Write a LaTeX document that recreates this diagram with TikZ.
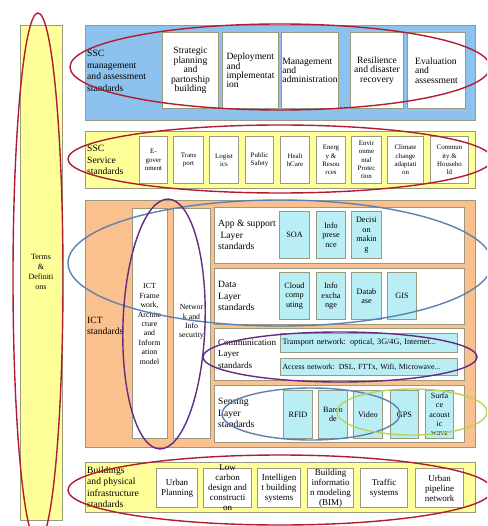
\documentclass[tikz,border=0pt]{standalone}
\usepackage{fontspec}
\usepackage{xcolor}
\setmainfont{Liberation Serif}

\definecolor{edge}{RGB}{155,152,128}
\definecolor{sky}{RGB}{141,194,238}
\definecolor{lemon}{RGB}{255,255,153}
\definecolor{peach}{RGB}{250,192,142}
\definecolor{aqua}{RGB}{186,238,245}
\definecolor{ringred}{RGB}{178,28,48}
\definecolor{ringpurple}{RGB}{98,44,128}
\definecolor{ringblue}{RGB}{92,130,176}
\definecolor{ringgreen}{RGB}{182,212,92}

\newcommand{\paneltxt}{\fontsize{9.6}{11.5}\selectfont}
\newcommand{\toptxt}{\fontsize{9.6}{9.4}\selectfont}
\newcommand{\svctxt}{\fontsize{6.9}{8.3}\selectfont}
\newcommand{\coltxt}{\fontsize{7.8}{9.4}\selectfont}
\newcommand{\aquatxt}{\fontsize{8.2}{9.5}\selectfont}
\newcommand{\bldtxt}{\fontsize{9}{10}\selectfont}

\begin{document}
\begin{tikzpicture}[x=1pt, y=-1pt]

    \tikzset{
        panel/.style = {rectangle, draw=edge, line width=1.2pt, anchor=north west, inner sep=0pt},
        cell/.style = {rectangle, draw=edge, line width=1pt, fill=white, anchor=north west, inner sep=0pt, align=center},
        aquacell/.style = {cell, fill=aqua, font=\aquatxt},
        lbl/.style = {anchor=west, align=left, inner sep=0pt, font=\paneltxt},
        ring/.style = {line width=1.4pt}
    }

    \fill [white] (0,0) rectangle (487,526);
    \useasboundingbox (0,0) rectangle (487,526);
    \clip (0,0) rectangle (487,526);

    % terms column
    \node (terms) [panel, fill=lemon, minimum width=42, minimum height=495] at (20,25) {};
    \node (termslbl) [align=center, inner sep=0pt, font=\fontsize{8}{10}\selectfont] at (41,272) {Terms\\\&\\Definiti\\ons};

    % management and assessment
    \node (mgmtpanel) [panel, fill=sky, minimum width=390, minimum height=95] at (85,25) {};
    \node (mgmt) [lbl] at (87,71) {SSC\\management\\and assessment\\standards};
    \node (strat) [cell, font=\toptxt, minimum width=56, minimum height=76] at (162,32) {Strategic\\planning\\and\\partorship\\building};
    \node (deploy) [cell, font=\toptxt, align=left, minimum width=56, minimum height=76] at (222,32) {Deployment\\and\\implementat\\ion};
    \node (manage) [cell, font=\toptxt, align=left, minimum width=57, minimum height=76] at (281,32) {Management\\and\\administration};
    \node (resil) [cell, font=\toptxt, minimum width=53, minimum height=76] at (350,32) {Resilience\\and disaster\\recovery};
    \node (evalu) [cell, font=\toptxt, align=left, minimum width=58, minimum height=76] at (407,32) {Evaluation\\and\\assessment};

    % service standards
    \node (svcpanel) [panel, fill=lemon, minimum width=390, minimum height=57] at (85,131) {};
    \node (svc) [lbl] at (87,160) {SSC\\Service\\standards};
    \node (egov) [cell, font=\svctxt, minimum width=28, minimum height=47] at (139,136) {E-\\gover\\nment};
    \node (trans) [cell, font=\svctxt, minimum width=30, minimum height=47] at (173,136) {Trans\\port};
    \node (logis) [cell, font=\svctxt, minimum width=29, minimum height=47] at (209,136) {Logist\\ics};
    \node (safety) [cell, font=\svctxt, minimum width=28, minimum height=47] at (245,136) {Public\\Safety};
    \node (health) [cell, font=\svctxt, minimum width=29, minimum height=47] at (280,136) {Healt\\hCare};
    \node (energy) [cell, font=\svctxt, minimum width=29, minimum height=47] at (316,136) {Energ\\y \&\\Resou\\rces};
    \node (envir) [cell, font=\svctxt, minimum width=30, minimum height=47] at (351,136) {Envir\\onme\\ntal\\Protec\\tion};
    \node (climate) [cell, font=\svctxt, minimum width=36, minimum height=47] at (387,136) {Climate\\change\\adaptati\\on};
    \node (commun) [cell, font=\svctxt, minimum width=38, minimum height=47] at (430,136) {Commun\\ity \&\\Househo\\ld};

    % ICT standards
    \node (ictpanel) [panel, fill=peach, minimum width=390, minimum height=247] at (85,200) {};
    \node (ict) [lbl] at (87,326) {ICT\\standards};
    \node (frame) [cell, font=\coltxt, minimum width=35, minimum height=230] at (132,208) {};
    \node (framelbl) [align=center, inner sep=0pt, font=\coltxt] at (149.5,324) {ICT\\Frame\\work,\\Archite\\cture\\and\\Inform\\ation\\model};
    \node (netsec) [cell, font=\coltxt, minimum width=37, minimum height=230] at (173,208) {};
    \node (netseclbl) [align=center, inner sep=0pt, font=\coltxt] at (191.5,322) {Networ\\k and\\Info\\security};

    \node (applayer) [cell, minimum width=250, minimum height=56] at (214,207) {};
    \node (applbl) [lbl] at (218,235) {App \& support\\\ Layer\\standards};
    \node (soa) [aquacell, minimum width=30, minimum height=47] at (279,211) {SOA};
    \node (presence) [aquacell, minimum width=29, minimum height=47] at (316,211) {Info\\prese\\nce};
    \node (decision) [aquacell, minimum width=30, minimum height=47] at (351,211) {Decisi\\on\\makin\\g};

    \node (datalayer) [cell, minimum width=250, minimum height=56] at (214,268) {};
    \node (datalbl) [lbl] at (218,296) {Data\\Layer\\standards};
    \node (cloud) [aquacell, minimum width=30, minimum height=47] at (279,272) {Cloud\\comp\\uting};
    \node (exch) [aquacell, minimum width=29, minimum height=47] at (316,272) {Info\\excha\\nge};
    \node (datab) [aquacell, minimum width=30, minimum height=47] at (351,272) {Datab\\ase};
    \node (gis) [aquacell, minimum width=29, minimum height=47] at (387,272) {GIS};

    \node (commlayer) [cell, minimum width=250, minimum height=52] at (214,328) {};
    \node (commlbl) [lbl, font=\fontsize{9}{11.5}\selectfont] at (218,354) {Communication\\Layer\\standards};
    \node (transport) [aquacell, text width=173, align=left, inner xsep=2pt, minimum height=19, font=\fontsize{8.2}{9}\selectfont] at (280,333) {Transport network: optical, 3G/4G, Internet...};
    \node (access) [aquacell, text width=173, align=left, inner xsep=2pt, minimum height=17, font=\fontsize{7.8}{9}\selectfont] at (280,358) {Access network: DSL, FTTx, Wifi, Microwave...};

    \node (senslayer) [cell, minimum width=250, minimum height=57] at (214,385) {};
    \node (senslbl) [lbl] at (218,413) {Sensing\\Layer\\standards};
    \node (rfid) [aquacell, minimum width=29, minimum height=48] at (283,390) {RFID};
    \node (barcode) [aquacell, minimum width=29, minimum height=48] at (318,390) {Barco\\de};
    \node (video) [aquacell, minimum width=29, minimum height=48] at (353,390) {Video};
    \node (gps) [aquacell, minimum width=28, minimum height=48] at (390,390) {GPS};
    \node (surface) [aquacell, minimum width=28, minimum height=48, font=\fontsize{8}{9.3}\selectfont] at (425,390) {Surfa\\ce\\acoust\\ic\\wave};

    % buildings and physical infrastructure
    \node (bldpanel) [panel, fill=lemon, minimum width=390, minimum height=50] at (85,462) {};
    \node (bld) [lbl] at (87,487) {Buildings\\and physical\\infrastructure\\standards};
    \node (urban) [cell, font=\bldtxt, minimum width=41, minimum height=39] at (156,468) {Urban\\Planning};
    \node (lowcarb) [cell, minimum width=48, minimum height=39, label={[align=center, font=\bldtxt, inner sep=0pt]center:{Low\\carbon\\design and\\constructi\\on}}] at (203,468) {};
    \node (intel) [cell, font=\bldtxt, minimum width=43, minimum height=39] at (257,468) {Intelligen\\t building\\systems};
    \node (bim) [cell, minimum width=46, minimum height=39, label={[align=center, font=\bldtxt, inner sep=0pt]center:{Building\\informatio\\n modeling\\(BIM)}}] at (307,468) {};
    \node (traffic) [cell, font=\bldtxt, minimum width=47, minimum height=39] at (360,468) {Traffic\\systems};
    \node (pipe) [cell, font=\bldtxt, minimum width=48, minimum height=39] at (415,468) {Urban\\pipeline\\network};

    % highlight rings
    \draw [ring, ringred] (38,278) ellipse [x radius=25, y radius=265];
    \draw [ring, ringred] (280,67) ellipse [x radius=210, y radius=43];
    \draw [ring, ringred] (280,159) ellipse [x radius=212, y radius=34];
    \draw [ring, ringblue] (280,263) ellipse [x radius=212, y radius=63];
    \draw [ring, ringpurple, rotate around={-2:(164,324)}] (164,324) ellipse [x radius=41, y radius=125];
    \draw [ring, ringpurple] (340,357) ellipse [x radius=137, y radius=25];
    \draw [ring, ringblue] (311,414) ellipse [x radius=89, y radius=26];
    \draw [ring, ringgreen] (412,412) ellipse [x radius=75, y radius=23];
    \draw [ring, ringred] (280,490) ellipse [x radius=212, y radius=35];
\end{tikzpicture}
\end{document}
